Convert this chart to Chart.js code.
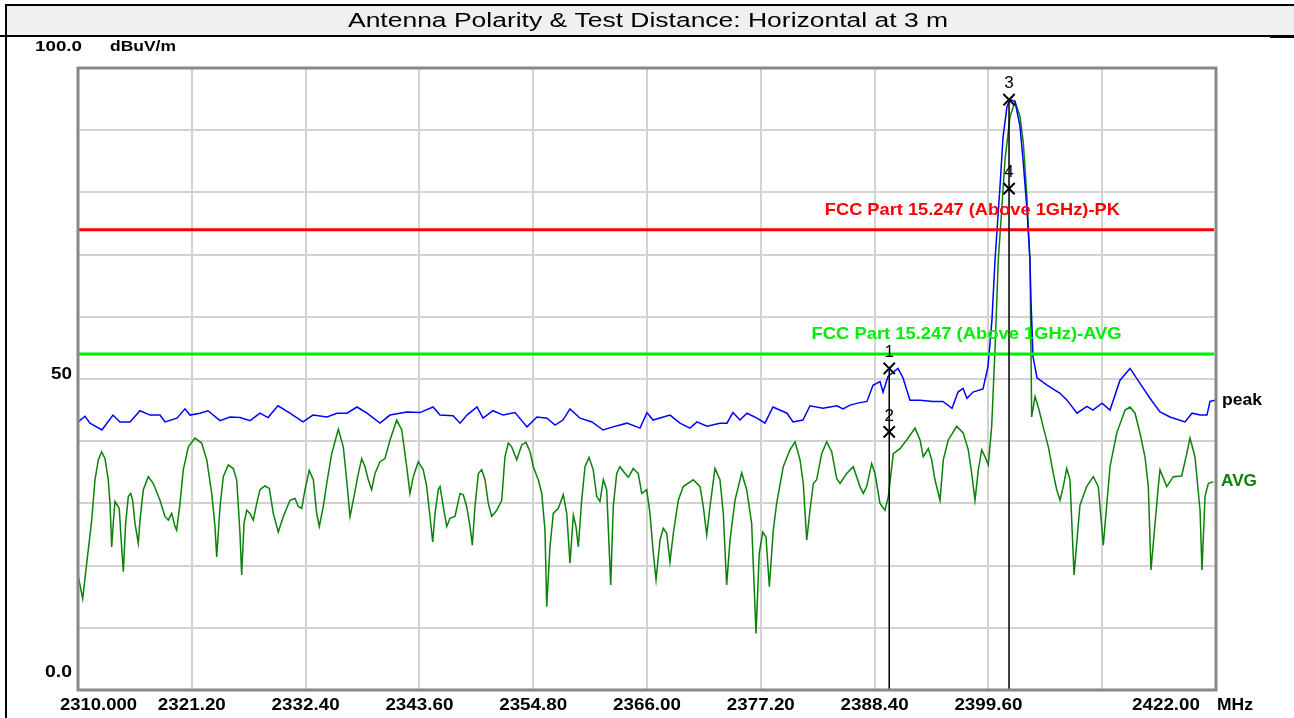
<!DOCTYPE html>
<html>
<head>
<meta charset="utf-8">
<script src="https://cdn.jsdelivr.net/npm/chart.js@4"></script>
<style>
html,body{margin:0;padding:0;background:#fff;}
canvas{display:block;}
</style>
</head>
<body>
<canvas id="c" width="1294" height="718"></canvas>
<script>
const chartTitle = 'Antenna Polarity & Test Distance: Horizontal at 3 m';
const xTickValues = [2310, 2321.2, 2332.4, 2343.6, 2354.8, 2366, 2377.2, 2388.4, 2399.6, 2410.8, 2422];
const xTickLabels = ['2310.000','2321.20','2332.40','2343.60','2354.80','2366.00','2377.20','2388.40','2399.60','','2422.00'];
const yTickValues = [0,10,20,30,40,50,60,70,80,90,100];

const peakFreq = [2310.00,2310.69,2311.18,2312.36,2313.44,2314.13,2315.12,2316.10,2317.09,2318.07,2318.56,2319.74,2320.53,2321.02,2322.01,2322.79,2323.98,2324.96,2325.94,2326.93,2327.91,2328.70,2329.68,2330.86,2332.14,2333.13,2334.51,2335.49,2336.47,2337.46,2338.44,2339.72,2340.71,2342.38,2343.66,2344.94,2345.63,2346.91,2347.60,2348.28,2349.27,2349.86,2350.84,2351.83,2353.01,2354.19,2355.17,2356.16,2356.95,2357.73,2358.42,2359.41,2360.59,2361.67,2362.65,2364.03,2365.31,2366.00,2366.59,2368.26,2369.25,2370.23,2370.92,2371.90,2373.18,2373.87,2374.46,2375.15,2375.84,2376.83,2377.61,2378.40,2379.78,2380.37,2381.35,2382.04,2383.32,2384.70,2385.29,2385.98,2386.96,2387.65,2388.24,2388.93,2389.23,2389.72,2390.70,2391.19,2391.88,2392.87,2394.15,2395.13,2396.02,2396.61,2397.10,2397.49,2398.08,2399.07,2399.56,2399.95,2400.25,2400.74,2401.04,2401.43,2401.73,2402.22,2402.71,2403.01,2403.40,2403.69,2403.79,2403.99,2404.38,2405.37,2406.65,2407.34,2408.32,2409.30,2409.89,2410.78,2411.57,2412.55,2413.54,2414.52,2415.50,2416.49,2417.47,2418.95,2419.64,2420.43,2421.11,2421.41,2421.90];
const peakLevel = [43.1,44.0,42.9,41.8,44.2,43.1,43.1,44.9,44.2,44.2,43.1,43.7,45.2,44.2,44.5,44.9,43.3,43.9,43.8,43.3,44.5,43.8,45.7,44.5,43.1,44.2,43.9,44.5,44.5,45.5,44.5,42.9,44.2,44.7,44.6,45.5,44.2,44.1,42.9,44.2,45.5,43.7,44.9,44.2,44.6,42.3,43.9,43.7,42.6,43.4,45.2,43.7,43.1,41.8,42.3,42.9,42.1,44.6,43.4,44.2,42.9,42.1,43.1,42.4,42.9,42.9,44.6,43.4,44.5,43.7,42.9,45.5,44.5,43.1,43.4,45.7,45.3,45.7,45.2,45.8,46.2,46.4,49.0,49.6,47.9,50.4,51.7,50.2,46.6,46.6,46.4,46.4,45.3,47.9,48.5,46.9,47.9,48.4,52.0,59.5,69.1,80.9,88.9,93.8,94.9,94.6,90.6,85.2,77.2,69.1,62.7,53.6,50.2,49.0,47.7,46.6,44.5,45.6,45.0,46.1,45.0,49.8,51.7,49.3,46.9,44.7,43.9,43.1,44.5,44.2,44.2,46.4,46.6];

const avgFreq = [2310.00,2310.46,2310.86,2311.35,2311.67,2312.00,2312.33,2312.66,2312.98,2313.15,2313.32,2313.47,2313.64,2313.87,2314.06,2314.23,2314.46,2314.69,2314.95,2315.19,2315.38,2315.61,2315.93,2316.10,2316.43,2316.92,2317.41,2318.07,2318.56,2318.89,2319.22,2319.55,2319.71,2320.04,2320.36,2320.86,2321.51,2322.17,2322.67,2323.16,2323.48,2323.65,2323.98,2324.30,2324.79,2325.28,2325.62,2325.94,2326.11,2326.34,2326.60,2326.93,2327.25,2327.59,2327.91,2328.40,2328.83,2329.22,2329.71,2330.21,2330.86,2331.36,2331.68,2332.02,2332.34,2332.76,2333.16,2333.49,2333.75,2334.14,2334.48,2334.97,2335.62,2336.11,2336.44,2336.77,2337.09,2337.59,2337.92,2338.25,2338.57,2338.90,2339.23,2339.72,2340.21,2340.71,2341.37,2341.86,2342.35,2342.67,2343.00,2343.49,2343.98,2344.32,2344.64,2344.91,2345.14,2345.46,2345.63,2345.95,2346.29,2346.61,2347.10,2347.60,2347.92,2348.25,2348.58,2348.81,2349.07,2349.40,2349.73,2350.06,2350.38,2350.72,2351.21,2351.70,2352.02,2352.35,2352.68,2353.18,2353.67,2354.09,2354.49,2354.81,2355.30,2355.64,2355.96,2356.13,2356.45,2356.78,2357.27,2357.76,2358.10,2358.42,2358.75,2359.01,2359.24,2359.57,2359.90,2360.29,2360.71,2361.05,2361.37,2361.70,2362.03,2362.43,2362.68,2363.02,2363.34,2363.84,2364.16,2364.65,2365.14,2365.48,2365.97,2366.29,2366.62,2366.89,2367.28,2367.60,2367.94,2368.26,2368.59,2369.08,2369.57,2370.56,2371.22,2371.54,2371.88,2372.20,2372.69,2373.18,2373.51,2373.84,2374.17,2374.66,2375.32,2375.81,2376.30,2376.73,2377.05,2377.39,2377.71,2378.04,2378.43,2378.76,2379.41,2380.07,2380.57,2381.06,2381.38,2381.72,2382.04,2382.37,2382.70,2383.19,2383.68,2384.18,2384.67,2385.00,2385.65,2386.30,2386.96,2387.29,2387.62,2388.11,2388.44,2388.93,2389.42,2389.75,2390.24,2390.90,2391.56,2392.38,2392.87,2393.19,2393.69,2394.02,2394.34,2394.84,2395.16,2395.65,2396.48,2397.13,2397.62,2397.96,2398.28,2398.61,2398.94,2399.27,2399.59,2399.92,2400.25,2400.57,2400.91,2401.23,2401.73,2402.22,2402.71,2403.04,2403.37,2403.69,2403.79,2403.86,2404.19,2404.51,2405.00,2405.50,2405.99,2406.32,2406.65,2406.97,2407.31,2407.63,2408.03,2408.61,2409.27,2409.92,2410.42,2410.91,2411.57,2412.23,2413.05,2413.54,2414.03,2414.52,2415.01,2415.34,2415.60,2416.32,2416.49,2417.15,2417.80,2418.62,2419.12,2419.44,2419.93,2420.43,2420.62,2420.92,2421.24,2421.74];
const avgLevel = [18.5,14.7,20.4,27.3,33.8,37.0,38.3,37.2,33.8,30.0,23.0,26.8,30.3,29.7,29.2,24.6,19.0,26.8,31.1,31.6,30.5,26.8,23.6,27.3,32.2,34.3,33.2,30.5,27.9,27.3,28.4,26.3,25.7,30.0,35.4,39.1,40.5,39.7,37.0,31.6,26.3,21.4,29.5,34.3,36.2,35.6,33.8,25.2,18.5,26.8,28.9,28.4,27.3,30.0,32.2,32.8,32.4,28.4,25.4,27.9,30.5,30.8,29.5,29.2,32.2,35.3,33.8,28.4,26.3,29.5,33.2,38.0,41.9,39.1,33.8,27.9,30.5,34.8,37.2,35.9,33.8,32.2,34.8,36.7,37.2,40.2,43.4,41.8,35.9,31.6,34.3,36.7,35.4,32.7,27.9,23.8,28.4,32.2,32.7,29.5,26.3,27.6,27.9,31.6,31.4,29.5,26.3,23.3,29.5,34.8,35.4,33.8,30.0,27.9,28.9,30.5,37.5,39.7,39.1,37.0,39.4,39.8,38.3,35.9,33.8,31.6,25.7,13.4,23.0,28.4,29.2,31.4,28.4,20.4,28.1,26.3,23.0,30.5,35.9,37.4,35.4,31.1,30.3,33.8,32.2,16.9,29.5,34.8,35.9,34.8,34.2,35.6,34.8,31.6,32.2,28.4,22.0,17.7,24.1,26.0,25.2,20.6,25.2,30.5,32.7,33.8,32.7,29.5,24.9,29.5,35.6,33.8,28.4,16.9,24.1,30.5,34.9,32.2,26.8,9.1,22.0,25.4,24.6,16.6,25.7,30.0,35.9,38.6,39.9,37.0,33.2,24.1,28.9,33.2,33.8,38.0,39.9,38.3,34.0,33.2,34.8,35.9,32.7,31.6,32.7,36.4,34.8,30.0,28.9,31.1,38.0,38.8,40.2,42.1,40.2,37.5,38.8,37.0,33.8,30.5,37.0,40.2,42.4,41.3,38.6,34.8,30.5,35.4,38.6,37.5,36.2,42.3,54.7,69.1,77.2,85.2,92.2,94.6,92.2,87.9,79.8,69.1,55.0,43.9,47.2,45.5,42.3,39.1,34.8,32.2,30.5,32.7,35.6,33.8,18.5,29.7,32.7,34.3,32.7,23.3,35.9,41.3,45.0,45.5,44.5,41.3,37.5,32.7,19.3,32.7,35.4,32.7,34.3,34.4,38.0,40.5,37.5,28.9,19.3,31.1,33.2,33.5];

const limitNames = ['FCC Part 15.247 (Above 1GHz)-PK','FCC Part 15.247 (Above 1GHz)-AVG'];
const limitLevels = [74, 54];
const limitColors = ['#ff0000', '#00ee00'];

const markerIds = ['1','2','3','4'];
const markerFreq = [2389.84, 2389.84, 2401.63, 2401.63];
const markerLevel = [51.7, 41.5, 94.9, 80.6];

const PLOT = {left:78, top:68, right:1216, bottom:690};

function fitText(ctx, txt, font, color, x, y, w, align){
  ctx.save();
  ctx.font = font; ctx.fillStyle = color; ctx.textBaseline = 'middle'; ctx.textAlign = 'left';
  const nat = ctx.measureText(txt).width;
  const s = w ? w/nat : 1;
  const tw = nat*s;
  const left = align === 'center' ? x - tw/2 : (align === 'right' ? x - tw : x);
  ctx.translate(left, y); ctx.scale(s, 1);
  ctx.fillText(txt, 0, 0);
  ctx.restore();
}

const pts = (fx, fy) => fx.map((f,i)=>({x:f, y:fy[i]}));

const datasets = [];
datasets.push({label:'markers', type:'scatter', data:pts(markerFreq, markerLevel), pointStyle:'crossRot', pointRadius:8, pointBorderColor:'#000', pointBorderWidth:2, showLine:false, order:0});
for (let i=0;i<markerFreq.length;i+=2){
  datasets.push({label:'mline'+i, data:[{x:markerFreq[i], y:markerLevel[i]}, {x:markerFreq[i], y:0}], borderColor:'#000', borderWidth:1.5, pointRadius:0, order:1});
}
limitLevels.forEach((v,i)=>{
  datasets.push({label:limitNames[i], data:[{x:2310,y:v},{x:2421.8,y:v}], borderColor:limitColors[i], borderWidth:3, pointRadius:0, order:2});
});
datasets.push({label:'peak', data:pts(peakFreq, peakLevel), borderColor:'#0000ff', borderWidth:1.5, pointRadius:0, order:3});
datasets.push({label:'AVG', data:pts(avgFreq, avgLevel), borderColor:'#0a820a', borderWidth:1.5, pointRadius:0, order:4});

const deco = {
  id:'deco',
  beforeDraw(chart){
    const ctx = chart.ctx;
    ctx.save();
    ctx.fillStyle = '#fff'; ctx.fillRect(0,0,chart.width,chart.height);
    ctx.fillStyle = '#f0f0f0'; ctx.fillRect(6,6,chart.width-6,29);
    ctx.fillStyle = '#000';
    ctx.fillRect(5,4,chart.width-5,2);
    ctx.fillRect(0,35,chart.width,2);
    ctx.fillRect(1270,36,24,2);
    ctx.fillRect(5,4,2,chart.height-4);
    ctx.restore();
    fitText(ctx, chartTitle, '20px "Liberation Sans", Arial, sans-serif', '#000', 648, 21, 600, 'center');
  },
  afterDraw(chart){
    const ctx = chart.ctx, a = chart.chartArea, xs = chart.scales.x, ys = chart.scales.y;
    ctx.save();
    ctx.strokeStyle = '#888'; ctx.lineWidth = 3;
    ctx.strokeRect(a.left, a.top, a.right-a.left, a.bottom-a.top);
    ctx.restore();
    const bold = s => 'bold '+s+'px "Liberation Sans", Arial, sans-serif';
    fitText(ctx, '100.0', bold(14), '#000', 35, 47, 47, 'left');
    fitText(ctx, 'dBuV/m', bold(14), '#000', 110, 47, 66, 'left');
    fitText(ctx, '50', bold(17), '#000', 72, ys.getPixelForValue(50)-5, 21, 'right');
    fitText(ctx, '0.0', bold(17), '#000', 72, ys.getPixelForValue(0)-18, 27, 'right');
    xTickValues.forEach((v,i)=>{
      const t = xTickLabels[i]; if(!t) return;
      const px = xs.getPixelForValue(v);
      if (i===0) fitText(ctx, t, bold(17), '#000', px-18, 705, 77, 'left');
      else if (i===xTickValues.length-1) fitText(ctx, t, bold(17), '#000', px-50, 705, 68, 'center');
      else fitText(ctx, t, bold(17), '#000', px, 705, 68, 'center');
    });
    fitText(ctx, 'MHz', bold(17), '#000', a.right+1, 705, 36, 'left');
    fitText(ctx, limitNames[0], bold(17), limitColors[0], xs.getPixelForValue(2383.5), ys.getPixelForValue(limitLevels[0])-19, 295, 'left');
    fitText(ctx, limitNames[1], bold(17), limitColors[1], xs.getPixelForValue(2382.2), ys.getPixelForValue(limitLevels[1])-20, 310, 'left');
    fitText(ctx, 'peak', bold(17), '#000', a.right+6, ys.getPixelForValue(peakLevel[peakLevel.length-1]), 40, 'left');
    fitText(ctx, 'AVG', bold(17), '#0a820a', a.right+5, ys.getPixelForValue(avgLevel[avgLevel.length-1]), 36, 'left');
    markerIds.forEach((m,i)=>{
      fitText(ctx, m, '17px "Liberation Sans", Arial, sans-serif', '#000', xs.getPixelForValue(markerFreq[i]), ys.getPixelForValue(markerLevel[i])-16, 0, 'center');
    });
  }
};

new Chart(document.getElementById('c'), {
  type:'line',
  data:{datasets},
  options:{
    responsive:false, animation:false, devicePixelRatio:1,
    layout:{padding:{left:PLOT.left, top:PLOT.top, right:1294-PLOT.right, bottom:718-PLOT.bottom}},
    plugins:{legend:{display:false}, tooltip:{enabled:false}, title:{display:false}},
    elements:{line:{tension:0}},
    scales:{
      x:{type:'linear', min:2310, max:2422,
         afterBuildTicks(s){ s.ticks = xTickValues.map(v=>({value:v})); },
         afterFit(s){ s.height = 0; },
         ticks:{display:false},
         grid:{color:'#d2d2d2', lineWidth:2, drawTicks:false},
         border:{display:false}},
      y:{type:'linear', min:0, max:100,
         afterBuildTicks(s){ s.ticks = yTickValues.map(v=>({value:v})); },
         afterFit(s){ s.width = 0; },
         ticks:{display:false},
         grid:{color:'#d2d2d2', lineWidth:2, drawTicks:false},
         border:{display:false}}
    }
  },
  plugins:[deco]
});
</script>
</body>
</html>
